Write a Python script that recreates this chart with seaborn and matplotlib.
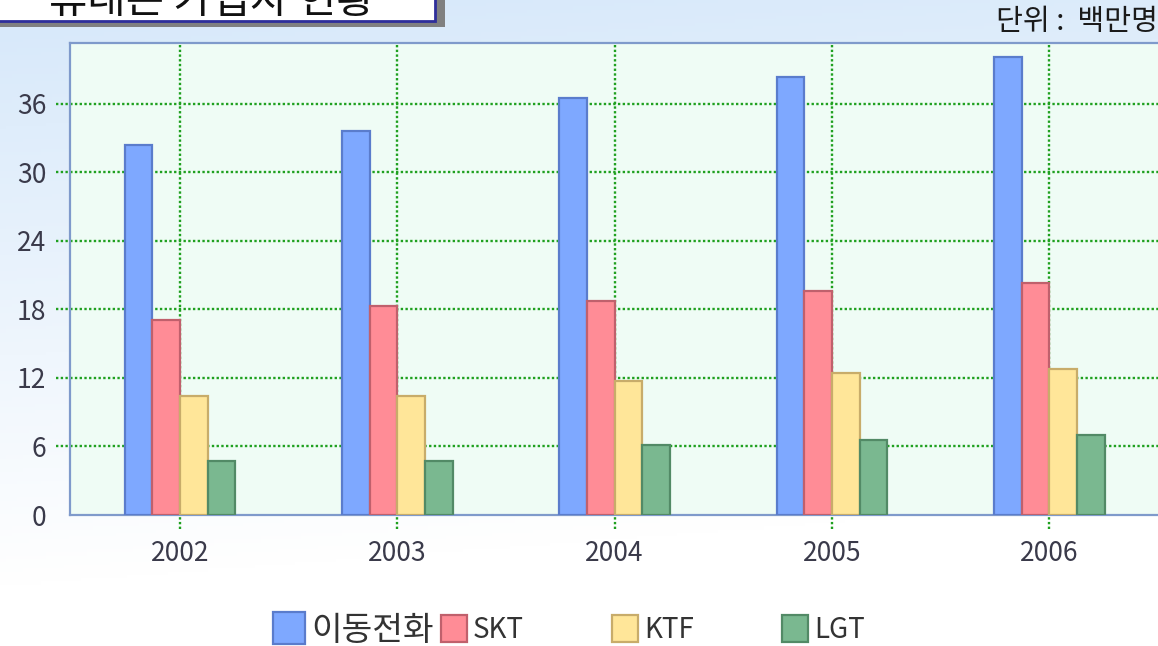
import matplotlib
matplotlib.use("Agg")
import matplotlib.pyplot as plt
import seaborn as sns
import numpy as np
import pandas as pd
from matplotlib.patches import Rectangle

# data (millions of subscribers)
years = ["2002", "2003", "2004", "2005", "2006"]
series = ["이동전화", "SKT", "KTF", "LGT"]
total = [32.4, 33.6, 36.5, 38.3, 40.1]
skt = [17.1, 18.3, 18.7, 19.6, 20.3]
ktf = [10.4, 10.4, 11.7, 12.4, 12.8]
lgt = [4.7, 4.7, 6.1, 6.6, 7.0]
yticks = [0, 6, 12, 18, 24, 30, 36]

fills = ["#7ea8ff", "#ff8c96", "#ffe699", "#7ab890"]
edges = ["#5a7ccc", "#c0606c", "#c8ac6a", "#528a66"]

df = pd.DataFrame({
    "year": years * 4,
    "series": [s for s in series for _ in years],
    "value": total + skt + ktf + lgt,
})

sns.set_theme(style="white")
plt.rcParams["font.family"] = ["Noto Sans CJK KR", "DejaVu Sans"]
txt = "#3a3a4a"

fig = plt.figure(figsize=(11.58, 6.46), dpi=100)

# background gradient
bg = fig.add_axes([0, 0, 1, 1], zorder=-10)
h, w = 200, 200
yy, xx = np.mgrid[0:1:h * 1j, 0:1:w * 1j]
t = np.clip(yy * 1.1 + xx * 0.15, 0, 1)
top = np.array([0.84, 0.91, 0.98])
bot = np.array([1.0, 1.0, 1.0])
img = top[None, None, :] * (1 - t[..., None]) + bot[None, None, :] * t[..., None]
bg.imshow(img, aspect="auto", extent=[0, 1, 0, 1], origin="upper")
bg.set_axis_off()

ax = fig.add_axes([70 / 1158, 1 - 515 / 646, 1 - 70 / 1158, (515 - 43) / 646])
ax.set_facecolor("#effcf5")

sns.barplot(data=df, x="year", y="value", hue="series", hue_order=series,
            palette=fills, width=0.51, gap=0, saturation=1, legend=False,
            ax=ax, zorder=3)
for cont, ec in zip(ax.containers, edges):
    for bar in cont.patches:
        bar.set_edgecolor(ec)
        bar.set_linewidth(1.6)

ax.set_xlim(-0.506, 4.5)
ax.set_ylim(0, 41.3)
ax.set_yticks(yticks)
ax.set_xlabel("")
ax.set_ylabel("")

grid = dict(color="#1fa01f", linestyle=(0, (1, 1)), linewidth=1.7, zorder=1)
ax.hlines(yticks[1:], -0.013, 1, transform=ax.get_yaxis_transform(),
          clip_on=False, **grid)
ax.vlines(range(len(years)), -0.03, 1, transform=ax.get_xaxis_transform(),
          clip_on=False, **grid)

ax.tick_params(axis="both", length=0, labelsize=19, labelcolor=txt)
ax.tick_params(axis="y", pad=17)
ax.tick_params(axis="x", pad=18)
for side in ["left", "bottom", "top"]:
    ax.spines[side].set_color("#7f9acb")
    ax.spines[side].set_linewidth(1.6)
ax.spines["right"].set_visible(False)

# legend, one entry per slot
slots = [273, 441, 612, 782]
for cont, lab, x in zip(ax.containers, series, slots):
    fig.legend([cont.patches[0]], [lab], loc="center left",
               bbox_to_anchor=(x / 1158, 1 - 630 / 646), frameon=False,
               fontsize=24 if lab == series[0] else 20, handlelength=0.95,
               handleheight=1.1, handletextpad=0.2, borderpad=0,
               borderaxespad=0, labelcolor="#333333")

fig.text(1.0, 1 - 22 / 646, "단위 :  백만명", ha="right", va="center",
         fontsize=21, color="#1a1a1a")

# title box, cut off at the top edge
fig.patches.append(Rectangle((0, 1 - 27 / 646), 445 / 1158, 0.2,
                             transform=fig.transFigure, facecolor="#808080",
                             edgecolor="none", zorder=5))
fig.patches.append(Rectangle((-0.01, 1 - 21 / 646), 447 / 1158, 0.2,
                             transform=fig.transFigure, facecolor="white",
                             edgecolor="#2e2e9a", linewidth=2, zorder=6))
fig.text(212 / 1158, 1 - 13 / 646, "휴대폰 가입자 현황", ha="center",
         va="baseline", fontsize=30, color="#111111", zorder=7)

fig.savefig("out.png", dpi=100)
